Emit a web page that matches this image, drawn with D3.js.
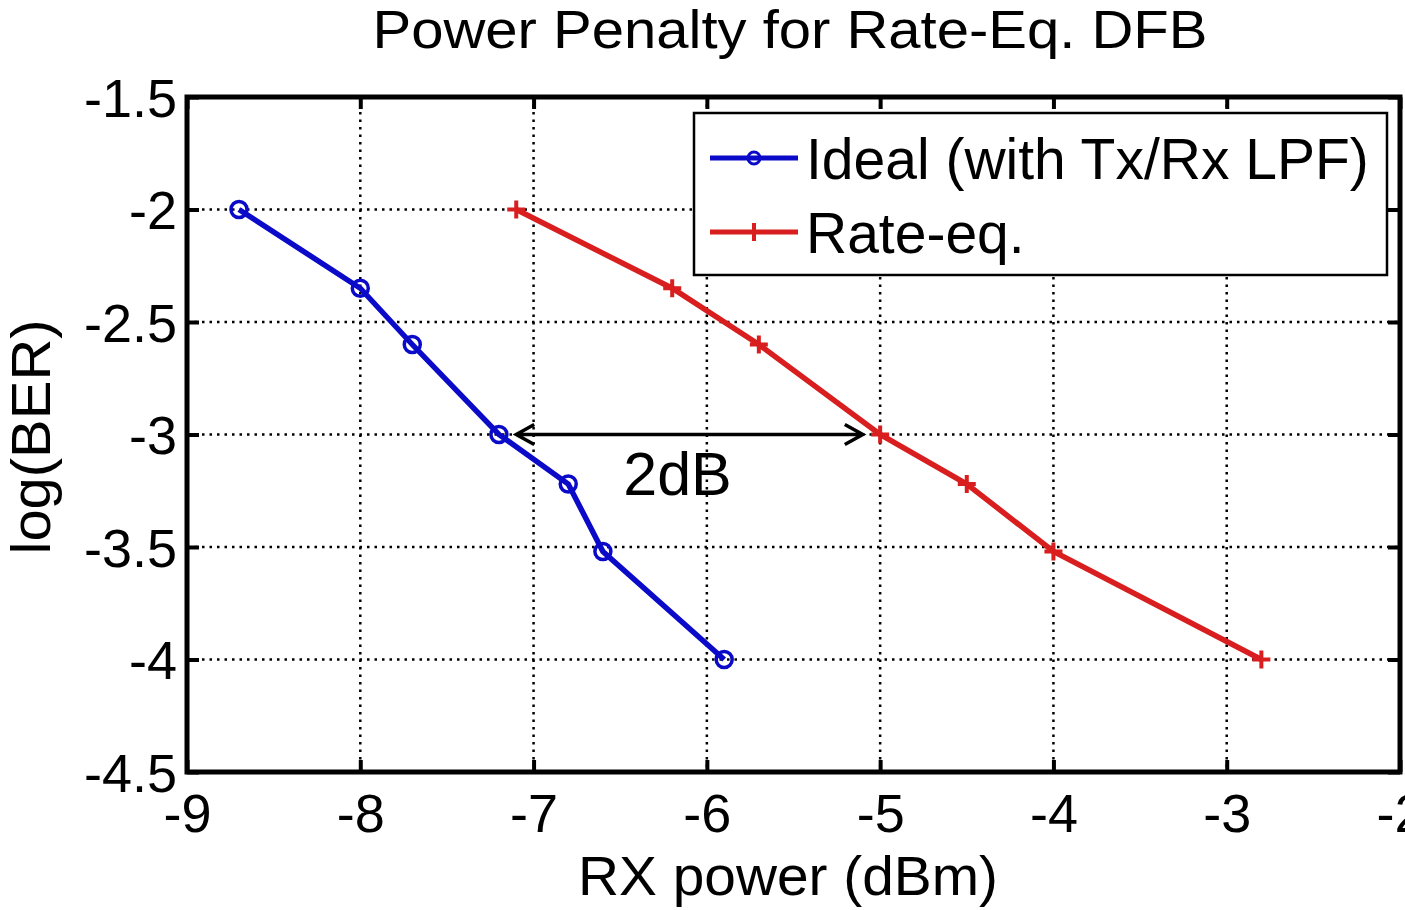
<!DOCTYPE html>
<html><head><meta charset="utf-8">
<script src="https://cdn.jsdelivr.net/npm/d3@7"></script>
<style>body{margin:0;background:#fff}svg{display:block}text{font-family:"Liberation Sans",Arial,sans-serif;fill:#000}</style>
</head><body><svg id="c" width="1405" height="910"></svg>
<script>
const idealX = [-8.7, -8.0, -7.7, -7.2, -6.8, -6.6, -5.9];
const idealY = [-2.0, -2.35, -2.6, -3.0, -3.22, -3.52, -4.0];
const rateX  = [-7.1, -6.2, -5.7, -5.0, -4.5, -4.0, -2.8];
const rateY  = [-2.0, -2.35, -2.6, -3.0, -3.22, -3.52, -4.0];
const xTicks = [-9, -8, -7, -6, -5, -4, -3, -2];
const yTicks = [-1.5, -2, -2.5, -3, -3.5, -4, -4.5];
const seriesNames = ["Ideal (with Tx/Rx LPF)", "Rate-eq."];
const arrowX = [-7.1, -5.1];
const arrowY = -3.0;
const arrowLabel = "2dB";

const svg = d3.select("#c");
const L = 187, R = 1400, T = 97, B = 772;
const x = d3.scaleLinear().domain([-9, -2]).range([L, R]);
const y = d3.scaleLinear().domain([-4.5, -1.5]).range([B, T]);
const blue = "#0a0ac8", red = "#d81e1e";

// grid
const g = svg.append("g");
g.selectAll(".gx").data(xTicks.slice(1, -1)).join("line")
  .attr("x1", d => x(d)).attr("x2", d => x(d)).attr("y1", T).attr("y2", B)
  .attr("stroke", "#000").attr("stroke-width", 2.5).attr("stroke-dasharray", "2.5,5");
g.selectAll(".gy").data(yTicks.slice(1, -1)).join("line")
  .attr("y1", d => y(d)).attr("y2", d => y(d)).attr("x1", L).attr("x2", R)
  .attr("stroke", "#000").attr("stroke-width", 2.5).attr("stroke-dasharray", "2.5,5");

// axes
const fmt = d => String(d);
const xAx = d3.axisBottom(x).tickValues(xTicks).tickSize(-12).tickPadding(22).tickFormat(fmt);
const xAxTop = d3.axisTop(x).tickValues(xTicks).tickSize(-12).tickFormat("");
const yAx = d3.axisLeft(y).tickValues(yTicks).tickSize(-12).tickPadding(10).tickFormat(fmt);
const yAxR = d3.axisRight(y).tickValues(yTicks).tickSize(-12).tickFormat("");
function style(sel){
  sel.select(".domain").remove();
  sel.selectAll(".tick line").attr("stroke", "#000").attr("stroke-width", 4);
  sel.selectAll("text").style("font-size", "54px").attr("fill", "#000");
}
svg.append("g").attr("transform", `translate(0,${B})`).call(xAx).call(style);
svg.append("g").attr("transform", `translate(0,${T})`).call(xAxTop).call(style);
svg.append("g").attr("transform", `translate(${L},0)`).call(yAx).call(style)
  .selectAll("text").attr("dy", "0.36em");
svg.append("g").attr("transform", `translate(${R},0)`).call(yAxR).call(style);
svg.append("rect").attr("x", L).attr("y", T).attr("width", R - L).attr("height", B - T)
  .attr("fill", "none").attr("stroke", "#000").attr("stroke-width", 5);

// series
const line = d3.line().x(d => x(d[0])).y(d => y(d[1]));
const ideal = d3.zip(idealX, idealY), rate = d3.zip(rateX, rateY);
svg.append("path").datum(ideal).attr("d", line).attr("fill", "none").attr("stroke", blue).attr("stroke-width", 5.5);
svg.selectAll(".mi").data(ideal).join("circle").attr("cx", d => x(d[0])).attr("cy", d => y(d[1])).attr("r", 8)
  .attr("fill", "none").attr("stroke", blue).attr("stroke-width", 3.5);
svg.append("path").datum(rate).attr("d", line).attr("fill", "none").attr("stroke", red).attr("stroke-width", 5.5);
svg.selectAll(".mr").data(rate).join("path")
  .attr("d", d => `M${x(d[0]) - 9},${y(d[1])}H${x(d[0]) + 9}M${x(d[0])},${y(d[1]) - 9}V${y(d[1]) + 9}`)
  .attr("stroke", red).attr("stroke-width", 4);

// arrow annotation
const ax1 = x(arrowX[0]), ax2 = x(arrowX[1]), ay = y(arrowY);
svg.append("path").attr("d", `M${ax1},${ay}H${ax2}M${ax1 + 18},${ay - 10}L${ax1},${ay}L${ax1 + 18},${ay + 10}M${ax2 - 18},${ay - 10}L${ax2},${ay}L${ax2 - 18},${ay + 10}`)
  .attr("fill", "none").attr("stroke", "#000").attr("stroke-width", 3.5);
svg.append("text").attr("x", (ax1 + ax2) / 2 - 12).attr("y", 495).attr("text-anchor", "middle")
  .style("font-size", "61px").text(arrowLabel);

// legend
const lg = svg.append("g");
lg.append("rect").attr("x", 694).attr("y", 113).attr("width", 693).attr("height", 162)
  .attr("fill", "#fff").attr("stroke", "#000").attr("stroke-width", 2.5);
const ly = [158, 232];
lg.append("line").attr("x1", 710).attr("x2", 798).attr("y1", ly[0]).attr("y2", ly[0]).attr("stroke", blue).attr("stroke-width", 5);
lg.append("circle").attr("cx", 754).attr("cy", ly[0]).attr("r", 6).attr("fill", "none").attr("stroke", blue).attr("stroke-width", 3);
lg.append("line").attr("x1", 710).attr("x2", 798).attr("y1", ly[1]).attr("y2", ly[1]).attr("stroke", red).attr("stroke-width", 5);
lg.append("path").attr("d", `M745,${ly[1]}H763M754,${ly[1] - 9}V${ly[1] + 9}`).attr("stroke", red).attr("stroke-width", 4);
seriesNames.forEach((n, i) => lg.append("text").attr("x", 806).attr("y", ly[i] + 21).style("font-size", "57px").text(n));

// titles
svg.append("text").attr("x", 790).attr("y", 48).attr("text-anchor", "middle").style("font-size", "54px")
  .attr("textLength", 835).attr("lengthAdjust", "spacingAndGlyphs").text("Power Penalty for Rate-Eq. DFB");
svg.append("text").attr("x", 788).attr("y", 895).attr("text-anchor", "middle").style("font-size", "56px")
  .attr("textLength", 420).attr("lengthAdjust", "spacingAndGlyphs").text("RX power (dBm)");
svg.append("text").attr("transform", "translate(50,437) rotate(-90)").attr("text-anchor", "middle").style("font-size", "56px")
  .attr("textLength", 235).attr("lengthAdjust", "spacingAndGlyphs").text("log(BER)");
</script></body></html>
